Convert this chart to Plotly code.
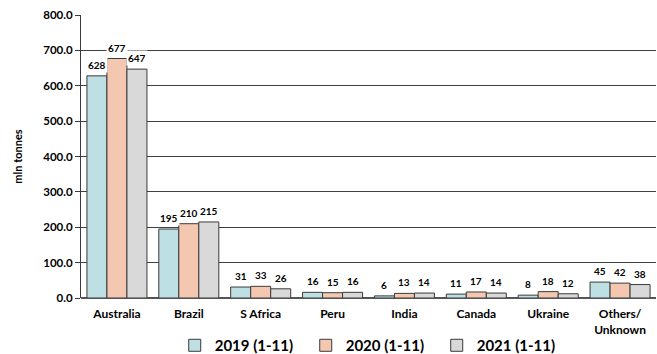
import plotly.graph_objects as go

categories = ["Australia", "Brazil", "S Africa", "Peru", "India", "Canada", "Ukraine", "Others/<br>Unknown"]
series_names = ["2019 (1-11)", "2020 (1-11)", "2021 (1-11)"]
v2019 = [628, 195, 31, 16, 6, 11, 8, 45]
v2020 = [677, 210, 33, 15, 13, 17, 18, 42]
v2021 = [647, 215, 26, 16, 14, 14, 12, 38]
y_ticks = [0, 100, 200, 300, 400, 500, 600, 700, 800]

colors = ["#BEE0E4", "#F4C8B0", "#D9D9D9"]
series = [v2019, v2020, v2021]
FONT = "Lato"

fig = go.Figure()
for name, vals, col in zip(series_names, series, colors):
    fig.add_trace(go.Bar(
        x=categories, y=vals, name=name,
        marker=dict(color=col, line=dict(color="#3a3a3a", width=1)),
    ))

shifts = [-20, 0, 20]
for vals, sh in zip(series, shifts):
    for c, v in zip(categories, vals):
        fig.add_annotation(
            x=c, y=v, xref="x", yref="y", text=f"<b>{v}</b>",
            showarrow=False, xshift=sh, yshift=3, yanchor="bottom",
            bgcolor="white", borderpad=1,
            font=dict(family=FONT, size=10, color="#000"),
        )

fig.update_layout(
    width=657, height=354,
    margin=dict(l=81, r=1, t=15, b=56, autoexpand=False),
    paper_bgcolor="white", plot_bgcolor="white",
    barmode="group", bargap=0.165, bargroupgap=0,
    font=dict(family=FONT, color="#000"),
    showlegend=True,
    legend=dict(orientation="h", x=0.163, xanchor="left", y=-0.168, yanchor="middle",
                font=dict(family=FONT, size=15, color="#000", weight="bold"),
                entrywidth=86, entrywidthmode="pixels", itemwidth=30,
                traceorder="normal"),
)
fig.update_xaxes(
    tickfont=dict(family=FONT, size=12, color="#000", weight="bold"),
    showline=False, ticks="", showgrid=False, ticklabelstandoff=7,
)
fig.update_yaxes(
    range=[0, 800], tickvals=y_ticks, tickformat=".1f",
    tickfont=dict(family=FONT, size=11.5, color="#000", weight="bold"),
    showgrid=True, gridcolor="#404040", gridwidth=1.2,
    showline=True, linecolor="#3a3a3a", linewidth=1,
    ticks="outside", ticklen=5, tickcolor="#3a3a3a",
    zeroline=True, zerolinecolor="#555555", zerolinewidth=2,
    title=dict(text="<b>mln tonnes</b>", font=dict(family=FONT, size=11, color="#000"), standoff=18),
)

fig.write_html("out.html")
